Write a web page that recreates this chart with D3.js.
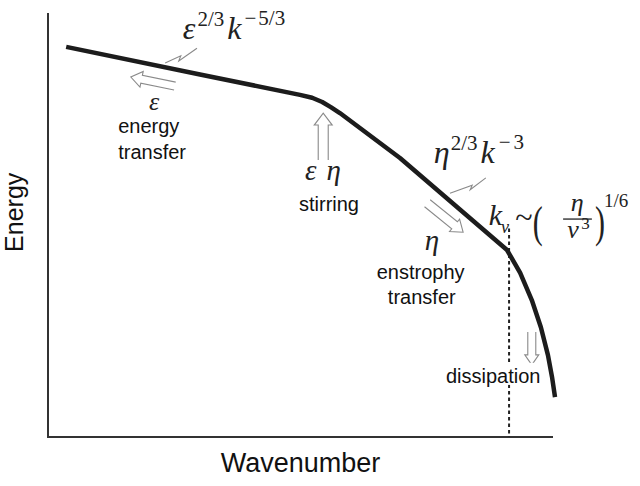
<!DOCTYPE html>
<html>
<head>
<meta charset="utf-8">
<script src="https://cdn.jsdelivr.net/npm/d3@7"></script>
<style>
  body { margin: 0; background: #fff; }
  svg { display: block; }
  .lab { font-family: "Liberation Sans", Arial, sans-serif; fill: #111; }
  .math { font-family: "Liberation Serif", "Times New Roman", serif; font-style: italic; fill: #222; }
  .up { font-style: normal; }
  .hollow { fill: none; stroke: #8a8a8a; stroke-width: 1.1; }
</style>
</head>
<body>
<svg width="640" height="486"></svg>
<script>
// spectrum, wavenumber vs energy (arbitrary units 0-100, no ticks on the original)
var wavenumber = [3.6, 30.1, 49.9, 52.3, 54.3, 56.0, 57.8, 69.7, 90.9, 93.5, 95.8, 97.6, 99.0, 99.8, 100.4];
var energy     = [92.0, 85.5, 80.7, 80.0, 79.0, 77.8, 76.4, 65.8, 44.1, 38.7, 32.3, 25.9, 19.3, 14.2, 9.4];
var cutoffK = 91.3;   // k_nu, dotted line

var svg = d3.select("svg");

var x = d3.scaleLinear().domain([0, 100]).range([48, 553]);
var y = d3.scaleLinear().domain([0, 100]).range([437, 13]);

var data = wavenumber.map(function(d, i) { return {x: d, y: energy[i]}; });

// axes: only the two lines, no ticks
svg.append("line")
    .attr("x1", x(0)).attr("x2", x(0))
    .attr("y1", y(0)).attr("y2", y(100))
    .attr("stroke", "#333").attr("stroke-width", 2);
svg.append("line")
    .attr("x1", x(0) - 1).attr("x2", x(100))
    .attr("y1", y(0)).attr("y2", y(0))
    .attr("stroke", "#333").attr("stroke-width", 2);

svg.append("text")
    .attr("class", "lab")
    .attr("transform", "translate(23," + y(53) + ") rotate(-90)")
    .attr("text-anchor", "middle")
    .attr("font-size", "25px")
    .text("Energy");

svg.append("text")
    .attr("class", "lab")
    .attr("x", x(50)).attr("y", 472)
    .attr("text-anchor", "middle")
    .attr("font-size", "27px")
    .text("Wavenumber");

// dotted cutoff
svg.append("line")
    .attr("x1", x(cutoffK)).attr("x2", x(cutoffK))
    .attr("y1", y(49.2)).attr("y2", y(0))
    .attr("stroke", "#222").attr("stroke-width", 2)
    .attr("stroke-dasharray", "3.5,3");

// spectrum line
var line = d3.line()
    .x(function(d) { return x(d.x); })
    .y(function(d) { return y(d.y); });

svg.append("path")
    .datum(data)
    .attr("fill", "none")
    .attr("stroke", "#1c1c1c")
    .attr("stroke-width", 4.5)
    .attr("stroke-linejoin", "round")
    .attr("d", line);

// hollow arrows: tip at data point, angle in degrees, length in px
function arrow(tx, ty, angle, len, w, h, hw) {
  var p = [[-len, -w], [-h, -w], [-h, -hw], [0, 0], [-h, hw], [-h, w], [-len, w]];
  svg.append("path")
      .attr("class", "hollow")
      .attr("transform", "translate(" + x(tx) + "," + y(ty) + ") rotate(" + angle + ")")
      .attr("d", d3.line()(p));
}
arrow(16.4, 84.9, 191.6, 45, 4, 11, 8);
arrow(54.5, 76.4, -90, 47, 5, 12, 9);
arrow(82.2, 48.3, 39, 46, 4.5, 11, 8);
arrow(95.8, 17.0, 90, 33, 4, 10, 7);

// lightning marks pointing at the line
function zigzag(pts) {
  svg.append("path")
      .attr("fill", "none")
      .attr("stroke", "#8a8a8a")
      .attr("stroke-width", 1.1)
      .attr("d", d3.line().x(function(d) { return x(d[0]); }).y(function(d) { return y(d[1]); })(pts));
}
zigzag([[23.2, 88.2], [26.3, 89.9], [25.9, 88.7], [29.5, 91.7]]);
zigzag([[79.6, 57.5], [84.0, 59.4], [83.6, 58.3], [86.7, 61.1]]);

// labels
function lab(tx, ty, s, anchor, size) {
  svg.append("text")
      .attr("class", "lab")
      .attr("x", x(tx)).attr("y", y(ty))
      .attr("text-anchor", anchor || "start")
      .attr("font-size", (size || 20) + "px")
      .text(s);
}
lab(13.9, 71.7, "energy");
lab(13.9, 65.6, "transfer");
lab(49.7, 53.3, "stirring");
lab(65.1, 37.3, "enstrophy");
lab(67.3, 31.4, "transfer");

// dissipation sits on a white patch that breaks the dotted line
svg.append("rect")
    .attr("x", x(78.8)).attr("y", y(17.5))
    .attr("width", 97).attr("height", 22)
    .attr("fill", "#fff");
lab(78.8, 12.7, "dissipation");

// math annotations, parts placed with dx/dy offsets
function math(tx, ty, parts, size) {
  var t = svg.append("text")
      .attr("class", "math")
      .attr("x", x(tx)).attr("y", y(ty))
      .attr("font-size", (size || 32) + "px");
  parts.forEach(function(p) {
    var s = t.append("tspan").text(p.t);
    if (p.dy) s.attr("dy", p.dy);
    if (p.dx) s.attr("dx", p.dx);
    if (p.fs) s.attr("font-size", p.fs + "px");
    if (p.up) s.attr("class", "up");
  });
  return t;
}
math(26.7, 93.9, [
  {t: "ε"},
  {t: "2/3", dx: 2, dy: -13, fs: 21, up: 1},
  {t: "k", dx: 3, dy: 13},
  {t: "−", dx: 3, dy: -14, fs: 21, up: 1},
  {t: "5/3", dx: 2, fs: 21, up: 1}
]);
math(20.0, 77.1, [{t: "ε"}], 26);
math(50.9, 60.6, [{t: "ε"}, {t: "η", dx: 10}], 29);
math(76.4, 64.6, [
  {t: "η"},
  {t: "2/3", dx: 1, dy: -13, fs: 21, up: 1},
  {t: "k", dx: 3, dy: 13},
  {t: "−", dx: 4, dy: -14, fs: 21, up: 1},
  {t: "3", dx: 3, fs: 21, up: 1}
]);
math(74.6, 44.1, [{t: "η"}], 29);

// k_nu ~ (eta / nu^3)^(1/6)
math(87.3, 50.0, [{t: "k"}], 30);
math(89.7, 48.2, [{t: "ν"}], 18);
math(92.5, 49.3, [{t: "~", up: 1}], 32);
math(104.8, 53.3, [{t: "η"}], 26).attr("text-anchor", "middle");
svg.append("line")
    .attr("x1", x(102.0)).attr("x2", x(107.7))
    .attr("y1", y(51.4)).attr("y2", y(51.4))
    .attr("stroke", "#222").attr("stroke-width", 1.3);
math(102.8, 47.0, [{t: "ν"}], 26);
math(105.6, 49.1, [{t: "3", up: 1}], 17);
math(110.1, 54.2, [{t: "1/6", up: 1}], 19);

// tall thin parentheses
[["(", 96.0], [")", 108.3]].forEach(function(p) {
  svg.append("text")
      .attr("class", "math up")
      .attr("transform", "translate(" + x(p[1]) + "," + y(47.2) + ") scale(1,1.5)")
      .attr("font-size", "30px")
      .text(p[0]);
});
</script>
</body>
</html>
